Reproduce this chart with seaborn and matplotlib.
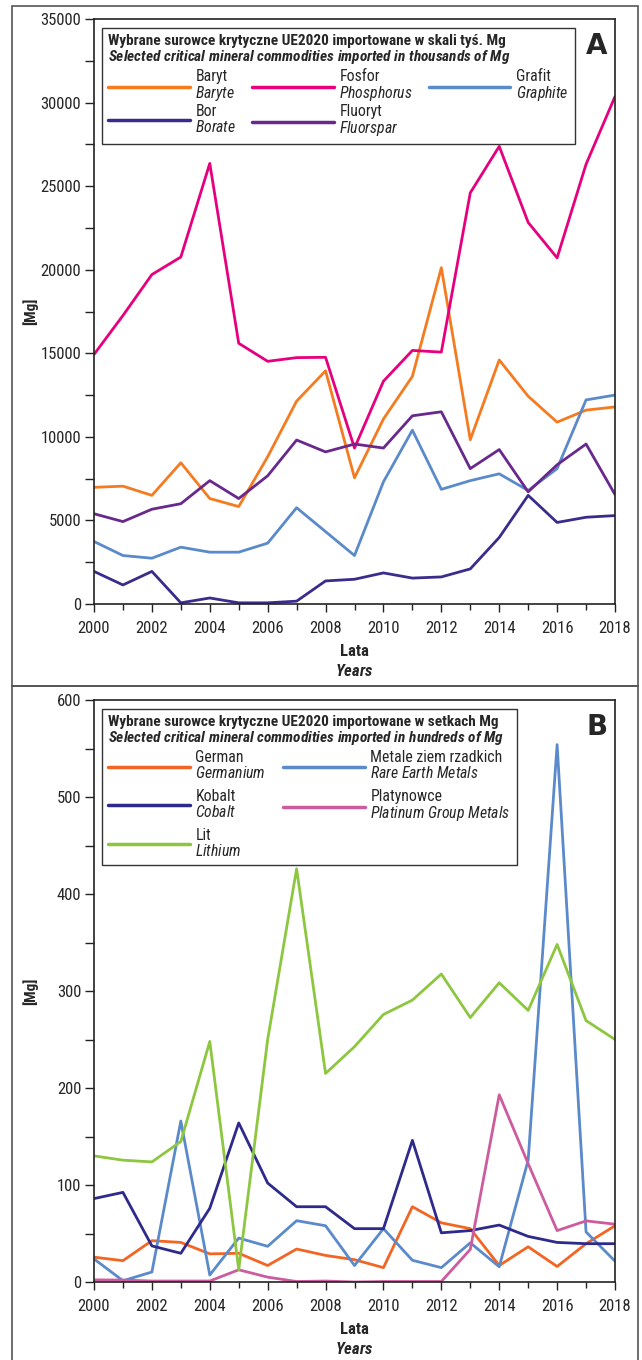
import matplotlib
matplotlib.use('Agg')
import matplotlib.pyplot as plt
from matplotlib import font_manager
from matplotlib.patches import Rectangle
from matplotlib.ticker import MultipleLocator
import seaborn as sns

# %%
# Data
years = list(range(2000, 2019))

# Panel A - imports in Mg (thousands scale)
baryte = [6980, 7050, 6500, 8450, 6310, 5830, 8810, 12140, 13950, 7550,
          11070, 13620, 20120, 9830, 14600, 12430, 10880, 11600, 11790]
phosphorus = [14930, 17260, 19710, 20760, 26360, 15600, 14520, 14740, 14760, 9330,
              13330, 15170, 15070, 24600, 27380, 22830, 20710, 26310, 30360]
graphite = [3740, 2900, 2740, 3400, 3100, 3100, 3640, 5760, 4330, 2900,
            7310, 10400, 6860, 7380, 7790, 6790, 8100, 12210, 12500]
borate = [1950, 1140, 1950, 70, 360, 70, 70, 170, 1380, 1480,
          1860, 1550, 1620, 2100, 3980, 6500, 4880, 5190, 5290]
fluorspar = [5400, 4930, 5670, 6000, 7380, 6310, 7670, 9810, 9100, 9570,
             9330, 11260, 11500, 8100, 9240, 6710, 8330, 9570, 6550]

# Panel B - imports in Mg (hundreds scale)
germanium = [25.6, 22, 42.6, 40.8, 29, 29.6, 17, 34, 27.4, 23,
             14.8, 77.6, 61, 55, 17, 36.3, 16, 39.5, 58]
cobalt = [86, 92.4, 37.2, 29.6, 76, 164, 102, 77.6, 77.6, 55,
          55, 146, 50.7, 53, 58.7, 47, 40.8, 39.5, 39.5]
lithium = [130, 125.6, 123.8, 144.8, 248, 12.6, 250, 426, 215, 242.6,
           275.8, 290.6, 317.5, 272.6, 308.5, 280, 348, 269.5, 250]
rare_earth = [23.8, 1.3, 10.3, 166, 7.2, 45.3, 36.8, 63.2, 58, 17,
              55, 22.4, 14.8, 40.4, 15.7, 125.6, 554, 51.6, 21.5]
platinum = [2.2, 2, 1, 1, 1, 12.6, 5, 0.5, 1, 0,
            0.5, 0.5, 0.5, 33.6, 193, 122, 53, 63, 59.6]

# %%
# Style
sns.set_style('ticks')
installed = {f.name for f in font_manager.fontManager.ttflist}
base_font = 'Roboto Condensed' if 'Roboto Condensed' in installed else 'Liberation Sans'
plt.rcParams['font.family'] = [base_font, 'DejaVu Sans']
plt.rcParams['mathtext.fontset'] = 'custom'
plt.rcParams['mathtext.rm'] = base_font
plt.rcParams['mathtext.it'] = base_font + ':italic'
plt.rcParams['mathtext.bf'] = base_font + ':bold'
plt.rcParams['mathtext.bfit'] = base_font + ':italic:bold'

fig = plt.figure(figsize=(6.42, 13.6), dpi=100)

# panel frames (grey boxes)
fig.add_artist(Rectangle((12 / 642, 1 - 686 / 1360), 626 / 642, 680 / 1360,
                         transform=fig.transFigure, fill=False, ec='#555555', lw=1.2))
fig.add_artist(Rectangle((12 / 642, -0.01), 626 / 642, 1 - 686 / 1360 + 0.01,
                         transform=fig.transFigure, fill=False, ec='#555555', lw=1.2))

ax_a = fig.add_axes([94 / 642, 1 - 604 / 1360, 521 / 642, 585 / 1360])
ax_b = fig.add_axes([94 / 642, 1 - 1282 / 1360, 521 / 642, 582 / 1360])


def it(s):
    return r'$\mathit{' + s.replace(' ', r'\ ') + '}$'


def bfit(s):
    return r'$\mathbfit{' + s.replace(' ', r'\ ') + '}$'


series_a = [
    ('Baryt', 'Baryte', baryte, '#F47B20'),
    ('Fosfor', 'Phosphorus', phosphorus, '#E6007E'),
    ('Grafit', 'Graphite', graphite, '#5B8ACB'),
    ('Bor', 'Borate', borate, '#3B2C8C'),
    ('Fluoryt', 'Fluorspar', fluorspar, '#68288C'),
]
series_b = [
    ('German', 'Germanium', germanium, '#F26522'),
    ('Metale ziem rzadkich', 'Rare Earth Metals', rare_earth, '#5B8ACB'),
    ('Kobalt', 'Cobalt', cobalt, '#2E2A8C'),
    ('Platynowce', 'Platinum Group Metals', platinum, '#CC5C9E'),
    ('Lit', 'Lithium', lithium, '#8DC63F'),
]

for ax, series in [(ax_a, series_a), (ax_b, series_b)]:
    for pl, en, vals, col in series:
        sns.lineplot(x=years, y=vals, color=col, lw=2.0, ax=ax,
                     label=pl + '\n' + it(en))

# %%
# Axes formatting
for ax in (ax_a, ax_b):
    ax.set_xlim(2000, 2018)
    ax.xaxis.set_major_locator(MultipleLocator(2))
    ax.xaxis.set_minor_locator(MultipleLocator(1))
    ax.tick_params(which='both', direction='out', labelsize=12, width=1, color='#222222')
    ax.tick_params(axis='x', which='major', length=6, pad=6)
    ax.tick_params(axis='x', which='minor', length=4.5)
    ax.tick_params(axis='y', which='both', length=6.5, pad=2.6)
    for sp in ax.spines.values():
        sp.set_visible(True)
        sp.set_linewidth(1.2)
        sp.set_color('#222222')
    ax.set_ylabel('[Mg]', fontweight='bold', fontsize=11)
    ax.yaxis.set_label_coords(-0.108, 0.5)
    ax.set_xlabel('Lata\n' + bfit('Years'), fontweight='bold', fontsize=12, labelpad=6,
                  linespacing=1.3)

ax_a.set_ylim(0, 35000)
ax_a.yaxis.set_major_locator(MultipleLocator(5000))
ax_a.yaxis.set_minor_locator(MultipleLocator(2500))
ax_b.set_ylim(0, 600)
ax_b.yaxis.set_major_locator(MultipleLocator(100))
ax_b.yaxis.set_minor_locator(MultipleLocator(50))

# %%
# Legends
def make_legend(ax, order, ncol, title_pl, title_en, colsp, lsp, top):
    handles, labels = ax.get_legend_handles_labels()
    h = [handles[i] for i in order]
    l = [labels[i] for i in order]
    leg = ax.legend(h, l, ncol=ncol, loc='upper left', bbox_to_anchor=(0.0155, top),
                    borderaxespad=0, fancybox=False, framealpha=1, edgecolor='#333333',
                    fontsize=11.3, handlelength=5.2, handletextpad=0.35, labelspacing=lsp,
                    columnspacing=colsp, borderpad=0.4, alignment='left',
                    title=title_pl + '\n' + bfit(title_en),
                    title_fontproperties={'weight': 'bold', 'size': 11})
    leg.get_frame().set_linewidth(1.0)
    for line in leg.get_lines():
        line.set_linewidth(2.5)
    for t in leg.get_texts():
        t.set_linespacing(1.0)
    leg.get_title().set_linespacing(1.0)
    # same gap between title and entries in both legends
    leg._legend_box.sep = 2.3
    return leg


make_legend(ax_a, [0, 3, 1, 4, 2], 3,
            'Wybrane surowce krytyczne UE2020 importowane w skali tyś. Mg',
            'Selected critical mineral commodities imported in thousands of Mg', 1.0, 0.05, 0.985)
make_legend(ax_b, [0, 2, 4, 1, 3], 2,
            'Wybrane surowce krytyczne UE2020 importowane w setkach Mg',
            'Selected critical mineral commodities imported in hundreds of Mg', 1.1, 0.48, 0.9845)

ax_a.text(0.985, 0.978, 'A', transform=ax_a.transAxes, ha='right', va='top',
          fontsize=20, fontweight='heavy', family=['DejaVu Sans'])
ax_b.text(0.985, 0.978, 'B', transform=ax_b.transAxes, ha='right', va='top',
          fontsize=20, fontweight='heavy', family=['DejaVu Sans'])

fig.savefig('out.png', dpi=100)
